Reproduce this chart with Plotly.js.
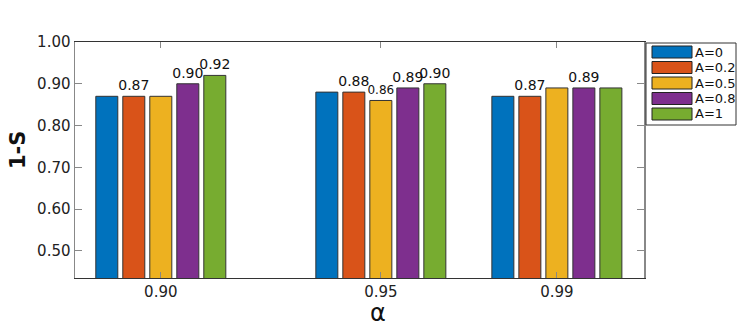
<!DOCTYPE html>
<html>
<head>
<meta charset="utf-8">
<script src="https://cdn.plot.ly/plotly-3.0.1.min.js"></script>
<style>
  body { margin: 0; background: #fff; }
  #chart { width: 739px; height: 330px; }
</style>
</head>
<body>
<div id="chart"></div>
<script>
const alphas = [0.90, 0.95, 0.99];
const alphaLabels = ["0.90", "0.95", "0.99"];
const seriesNames = ["A=0", "A=0.2", "A=0.5", "A=0.8", "A=1"];
const seriesColors = ["#0072BD", "#D95319", "#EDB120", "#7E2F8E", "#77AC30"];

const valsA0 = [0.87, 0.88, 0.87];
const valsA02 = [0.87, 0.88, 0.87];
const valsA05 = [0.87, 0.86, 0.89];
const valsA08 = [0.90, 0.89, 0.89];
const valsA1 = [0.92, 0.90, 0.89];

const textA0 = ["", "", ""];
const textA02 = ["0.87", "0.88", "0.87"];
const textA05 = ["", "0.86", ""];
const textA08 = ["0.90", "0.89", "0.89"];
const textA1 = ["0.92", "0.90", ""];

const yTicks = [0.5, 0.6, 0.7, 0.8, 0.9, 1.0];

const allVals = [valsA0, valsA02, valsA05, valsA08, valsA1];
const allText = [textA0, textA02, textA05, textA08, textA1];
const textSizes = [14, 14, 12, 14, 14];

const font = "DejaVu Sans, sans-serif";

const traces = allVals.map((v, i) => ({
	type: "bar",
	x: alphas,
	y: v,
	name: seriesNames[i],
	text: allText[i],
	textposition: "outside",
	constraintext: "none",
	cliponaxis: false,
	textfont: { family: font, size: textSizes[i], color: "#111" },
	marker: { color: seriesColors[i], line: { color: "#333", width: 1 } },
	showlegend: false,
	hoverinfo: "skip",
}));

// plot area in pixels
const L = 75, R = 644, T = 42, B = 278;
const px = (x) => (x - L) / (R - L);
const py = (y) => (B - y) / (B - T);

// hand-drawn legend (wide swatches like the original)
const shapes = [{
	type: "rect", xref: "paper", yref: "paper",
	x0: px(646), x1: px(736), y0: py(43), y1: py(125),
	line: { color: "#333", width: 1 }, fillcolor: "#fff",
}];
const annotations = [];
seriesNames.forEach((n, i) => {
	const cy = 52 + i * 15.5;
	shapes.push({
		type: "rect", xref: "paper", yref: "paper",
		x0: px(652), x1: px(692), y0: py(cy + 6), y1: py(cy - 6),
		line: { color: "#222", width: 1 }, fillcolor: seriesColors[i],
	});
	annotations.push({
		xref: "paper", yref: "paper", x: px(693), y: py(cy),
		xanchor: "left", yanchor: "middle", showarrow: false,
		text: n, font: { family: font, size: 13, color: "#111" },
	});
});

annotations.push({
	xref: "paper", yref: "paper", x: px(378), y: py(313),
	xanchor: "center", yanchor: "middle", showarrow: false,
	text: "α", font: { family: font, size: 24, color: "#111" },
});
annotations.push({
	xref: "paper", yref: "paper", x: px(18), y: py(150),
	xanchor: "center", yanchor: "middle", showarrow: false, textangle: -90,
	text: "<b>1-S</b>", font: { family: font, size: 21, color: "#111" },
});

const layout = {
	width: 739,
	height: 330,
	margin: { l: L, r: 739 - R, t: T, b: 330 - B },
	paper_bgcolor: "#fff",
	plot_bgcolor: "#fff",
	barmode: "group",
	bargap: 0.233,
	bargroupgap: 0.185,
	font: { family: font, size: 15, color: "#222" },
	xaxis: {
		range: [0.8805, 1.0098],
		tickvals: alphas,
		ticktext: alphaLabels,
		ticks: "inside",
		ticklen: 6,
		tickcolor: "#888",
		showgrid: false,
		zeroline: false,
		showline: true,
		linecolor: "#333",
		linewidth: 1,
		mirror: "ticks",
		tickfont: { family: font, size: 15, color: "#222" },
	},
	yaxis: {
		range: [0.435, 1.0],
		tickvals: yTicks,
		tickformat: ".2f",
		ticks: "inside",
		ticklen: 7,
		tickcolor: "#888",
		showgrid: false,
		zeroline: false,
		showline: true,
		linecolor: "#888",
		linewidth: 1.5,
		mirror: "ticks",
		tickfont: { family: font, size: 15, color: "#222" },
	},
	shapes: shapes,
	annotations: annotations,
	showlegend: false,
};

Plotly.newPlot("chart", traces, layout, { displayModeBar: false, staticPlot: true });
</script>
</body>
</html>
